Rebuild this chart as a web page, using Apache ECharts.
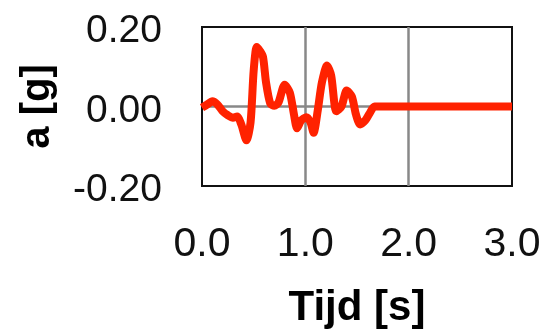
<!DOCTYPE html>
<html>
<head>
<meta charset="utf-8">
<script src="https://cdn.jsdelivr.net/npm/echarts@6/dist/echarts.min.js"></script>
<style>
  html, body { margin: 0; padding: 0; background: #fff; }
  #chart { width: 546px; height: 330px; }
</style>
</head>
<body>
<div id="chart"></div>
<script>
// Recorded acceleration trace: time [s] and acceleration [g]
const time = [0, 0.05, 0.1, 0.15, 0.2, 0.25, 0.3, 0.34, 0.38, 0.43, 0.47, 0.5, 0.53, 0.56, 0.59, 0.62, 0.66, 0.7, 0.74, 0.8, 0.85, 0.89, 0.92, 0.96, 1.01, 1.05, 1.08, 1.12, 1.16, 1.21, 1.25, 1.3, 1.35, 1.4, 1.45, 1.49, 1.53, 1.58, 1.62, 1.67, 1.75, 2.0, 2.5, 3.0];
const accel = [-0.003, 0.005, 0.013, 0.005, -0.012, -0.022, -0.028, -0.025, -0.045, -0.085, -0.04, 0.09, 0.15, 0.14, 0.125, 0.06, 0.008, 0.002, 0.01, 0.055, 0.035, -0.02, -0.055, -0.035, -0.027, -0.04, -0.066, -0.01, 0.06, 0.103, 0.078, -0.012, 0.0, 0.04, 0.025, -0.02, -0.045, -0.035, -0.018, 0.0, 0.0, 0.0, 0.0, 0.0];

const xTicks = [0, 1, 2, 3];
const yTicks = [-0.2, 0, 0.2];

const font = 'Liberation Sans, Arial, sans-serif';
const chart = echarts.init(document.getElementById('chart'));
chart.setOption({
  animation: false,
  grid: {
    left: 202, right: 34, top: 27, bottom: 142,
    show: true, borderColor: '#111', borderWidth: 2, backgroundColor: '#fff'
  },
  xAxis: {
    type: 'value',
    min: xTicks[0], max: xTicks[xTicks.length - 1], interval: 1,
    name: 'Tijd [s]', nameLocation: 'middle', nameGap: 101,
    nameTextStyle: { fontFamily: font, fontSize: 42, fontWeight: 'bold', color: '#000' },
    axisLine: { show: false },
    axisTick: { show: false },
    axisLabel: { fontFamily: font, fontSize: 41, color: '#111', margin: 38,
      formatter: v => v.toFixed(1) },
    splitLine: { show: true, showMinLine: false, showMaxLine: false,
      lineStyle: { color: '#888', width: 2.5 } }
  },
  yAxis: {
    type: 'value',
    min: yTicks[0], max: yTicks[yTicks.length - 1], interval: 0.2,
    name: 'a [g]', nameLocation: 'middle', nameGap: 144,
    nameTextStyle: { fontFamily: font, fontSize: 40, fontWeight: 'bold', color: '#000' },
    axisLine: { show: false },
    axisTick: { show: false },
    axisLabel: { margin: 40,
      formatter: v => '{t|' + v.toFixed(2) + '}',
      rich: { t: { fontFamily: font, fontSize: 39, color: '#111', padding: [9, 0, 0, 0] } } },
    splitLine: { show: true, showMinLine: false, showMaxLine: false,
      lineStyle: { color: '#888', width: 2.5 } }
  },
  series: [{
    type: 'line',
    data: time.map((t, i) => [t, accel[i]]),
    showSymbol: false,
    smooth: 0.25,
    lineStyle: { color: '#ff2200', width: 8 },
    z: 3
  }]
});
</script>
</body>
</html>
